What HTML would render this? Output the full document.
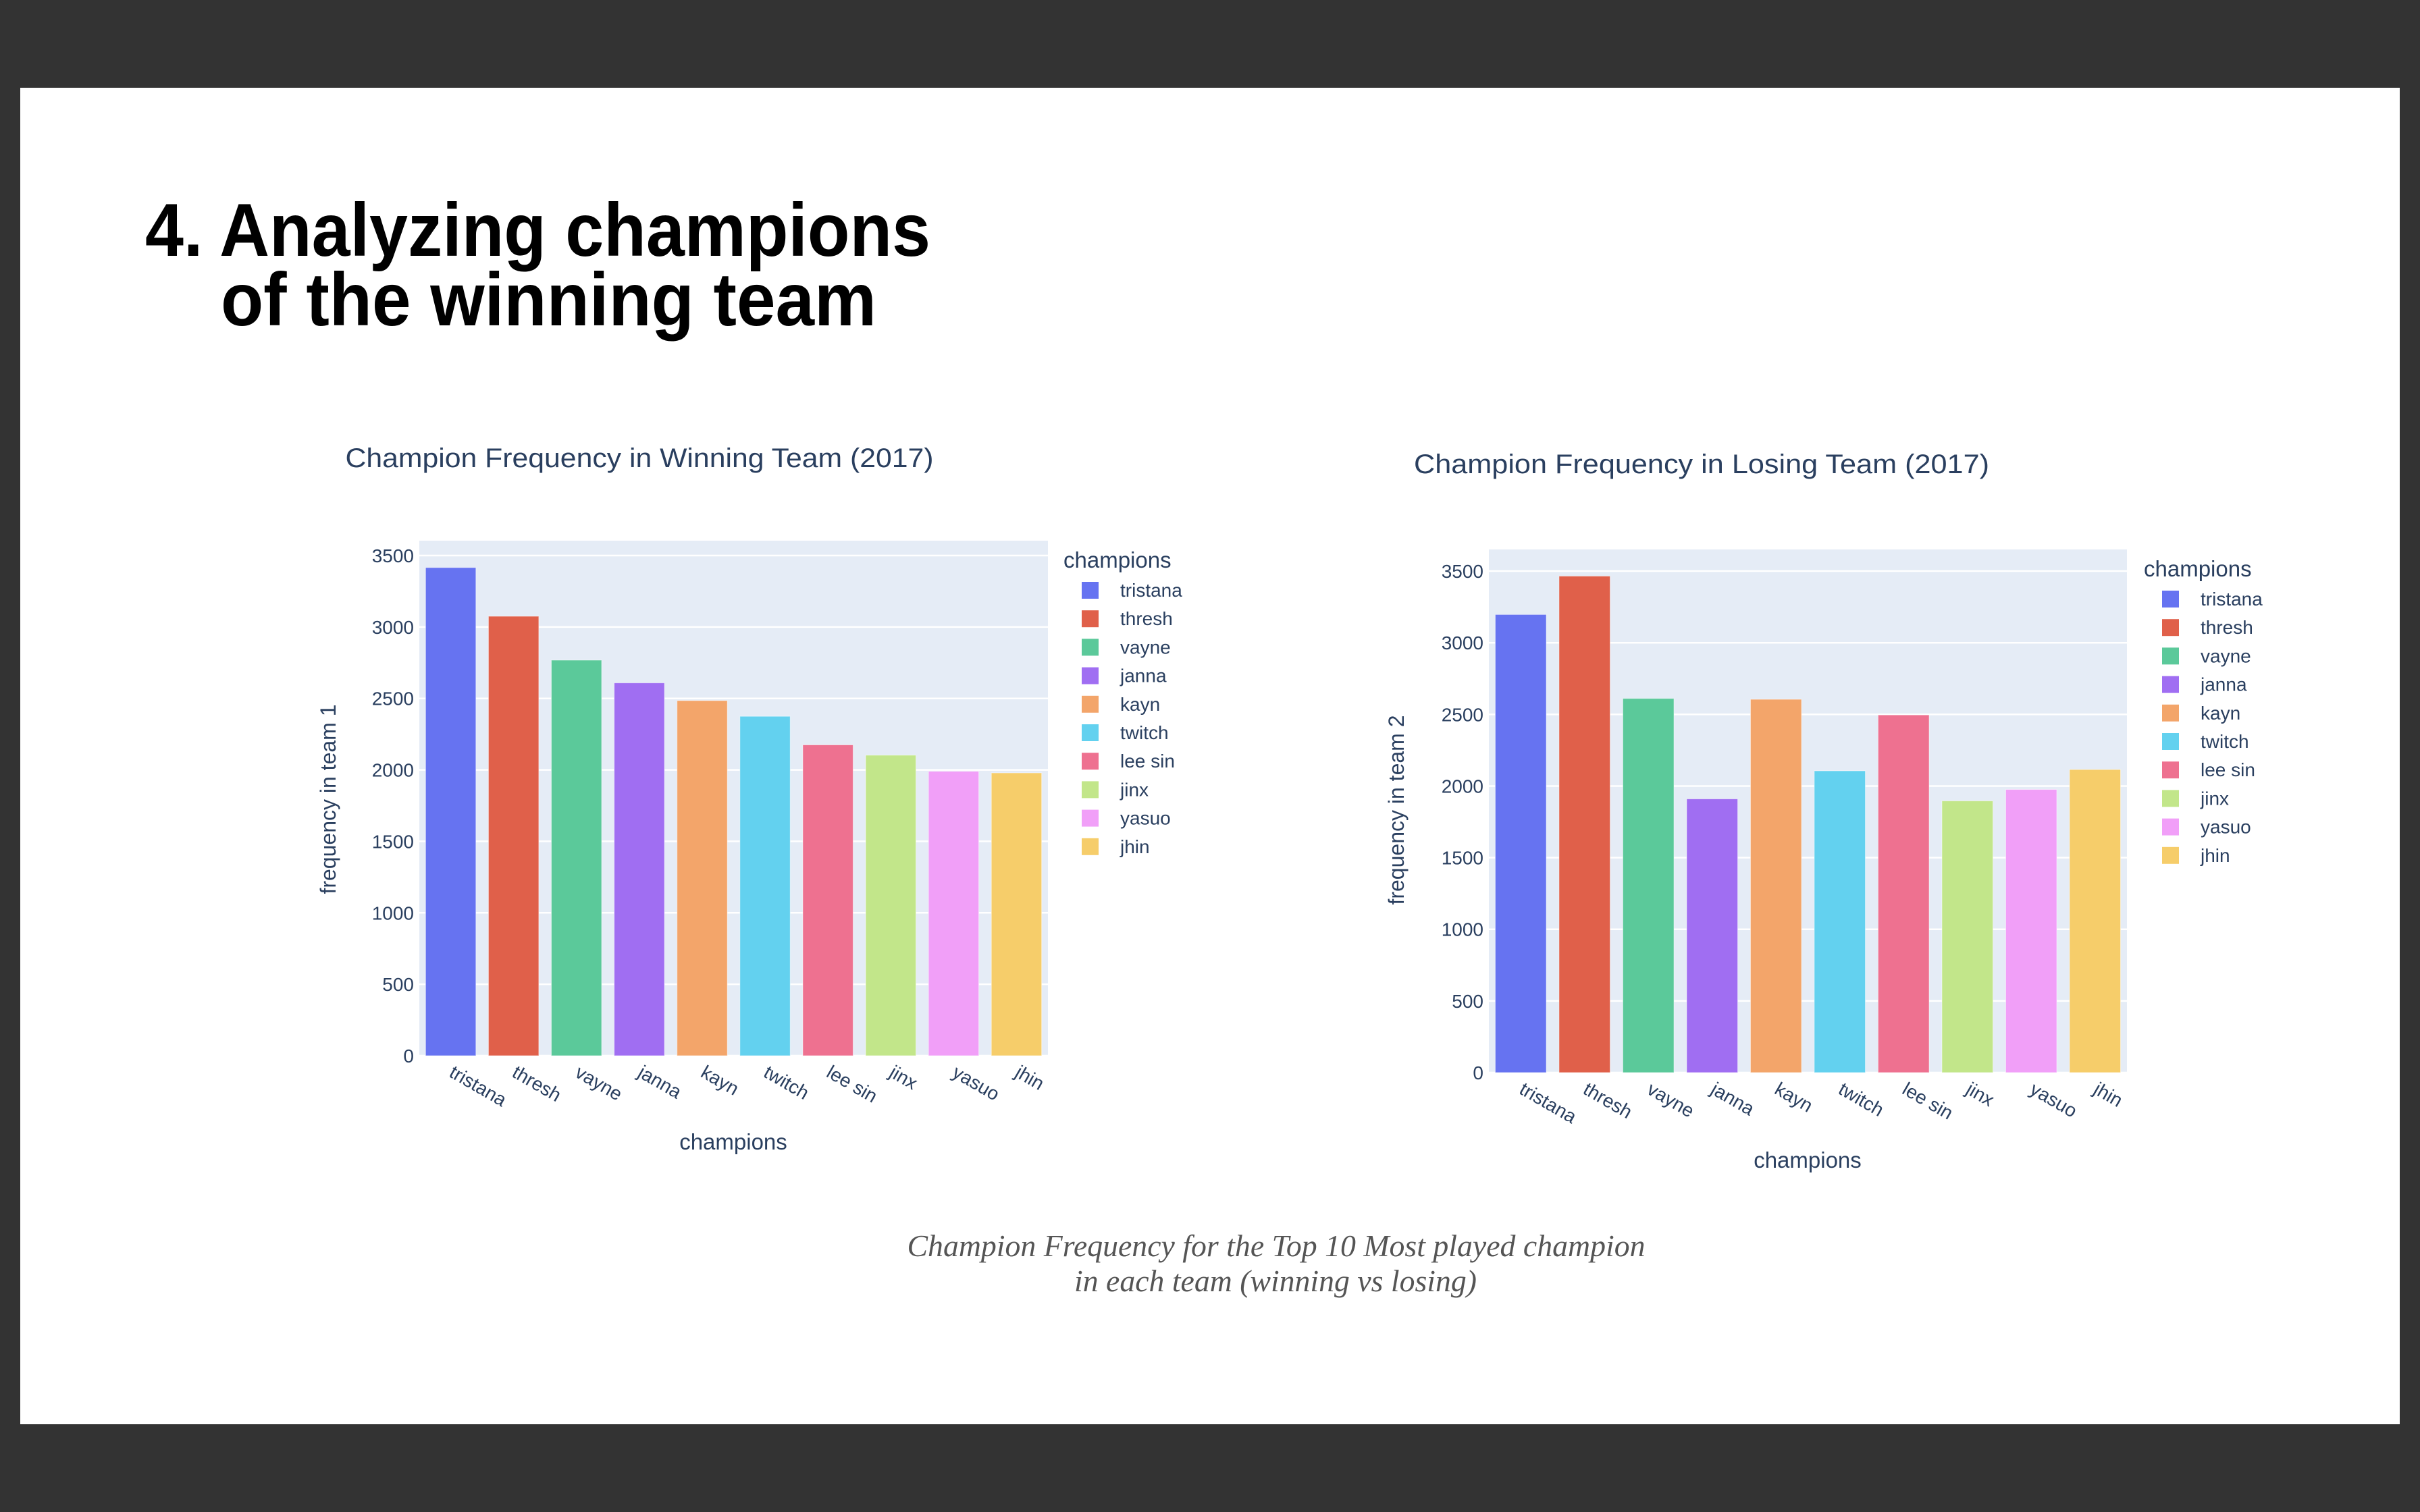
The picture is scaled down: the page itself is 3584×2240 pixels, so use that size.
<!DOCTYPE html>
<html><head><meta charset="utf-8"><style>
html,body{margin:0;padding:0;background:#333333;}
svg{display:block;}
text{font-family:"Liberation Sans",sans-serif;}
</style></head><body>
<svg id="root" width="3584" height="2240" viewBox="0 0 3584 2240">
<rect x="0" y="0" width="3584" height="2240" fill="#333333"/>
<rect x="30" y="130" width="3524" height="1980" fill="#ffffff"/>
<text x="215" y="379" font-size="111" font-weight="bold" fill="#000" textLength="1163" lengthAdjust="spacingAndGlyphs">4. Analyzing champions</text>
<text x="327" y="482" font-size="111" font-weight="bold" fill="#000" textLength="971" lengthAdjust="spacingAndGlyphs">of the winning team</text>
<text x="1890" y="1861" font-size="45" font-style="italic" fill="#555" text-anchor="middle" style="font-family:'Liberation Serif',serif" textLength="1093" lengthAdjust="spacingAndGlyphs">Champion Frequency for the Top 10 Most played champion</text>
<text x="1889" y="1913" font-size="45" font-style="italic" fill="#555" text-anchor="middle" style="font-family:'Liberation Serif',serif" textLength="596" lengthAdjust="spacingAndGlyphs">in each team (winning vs losing)</text>
<g id="chart1"></g>
<g id="chart2"></g>
</svg>
<script>
const categories = ["tristana","thresh","vayne","janna","kayn","twitch","lee sin","jinx","yasuo","jhin"];
const winValues = [3416,3075,2768,2609,2485,2375,2175,2103,1990,1979];
const loseValues = [3197,3465,2611,1910,2605,2106,2496,1896,1976,2115];
const yTicks = [0,500,1000,1500,2000,2500,3000,3500];
const colors = ["#6673F1","#E0604A","#5BC99A","#A06EF2","#F3A56A","#63D1EF","#EE7190","#C2E68A","#F19FF8","#F6CD6A"];
const NS = "http://www.w3.org/2000/svg";
const TC = "#2a3f5f";
function mk(parent, tag, attrs, txt){
  const e = document.createElementNS(NS, tag);
  for (const k in attrs) e.setAttribute(k, attrs[k]);
  if (txt !== undefined) e.textContent = txt;
  parent.appendChild(e);
  return e;
}
function drawChart(g, cfg, values){
  const x0 = cfg.x0, x1 = cfg.x1, yTop = cfg.yTop, yZero = cfg.yZero, yMax = cfg.yMax;
  const yScale = v => yZero - (v / yMax) * (yZero - yTop);
  const band = (x1 - x0) / categories.length;
  const xScale = i => x0 + band * (i + 0.5);
  const bg = mk(g, "rect", {x:x0, y:yTop, width:x1-x0, height:yZero-yTop, fill:"#E5ECF6"});
  
  
  yTicks.forEach(t => {
    const y = yScale(t);
    const gl = mk(g, "line", {x1:x0, x2:x1, y1:y, y2:y, stroke:"#fff", "stroke-width":2.5});
    
    
    const tl = mk(g, "text", {x:x0-8, y:y+10, "font-size":28, fill:TC, "text-anchor":"end"}, String(t));
    
    
  });
  values.forEach((v, i) => {
    const cx = xScale(i), w = band * 0.8;
    const b = mk(g, "rect", {x:cx-w/2, y:yScale(v), width:w, height:yZero-yScale(v), fill:colors[i], stroke:"rgba(255,255,255,0.5)", "stroke-width":1});
    
    
    const lx0 = cx - 4, ly0 = yZero + 30;
    const xl = mk(g, "text", {x:lx0, y:ly0, "font-size":28, fill:TC, transform:"rotate(30 " + lx0 + " " + ly0 + ")"}, categories[i]);
    
    
  });
  const t = mk(g, "text", {x:cfg.titleX, y:cfg.titleY, "font-size":40, fill:TC, "text-anchor":"middle", textLength:cfg.titleW, lengthAdjust:"spacingAndGlyphs"}, cfg.title);
  
  
  const yt = mk(g, "text", {x:cfg.yTitleX, y:cfg.yTitleY, "font-size":32, fill:TC, "text-anchor":"middle", transform:"rotate(-90 " + cfg.yTitleX + " " + cfg.yTitleY + ")"}, cfg.yTitle);
  
  
  const xt = mk(g, "text", {x:cfg.xTitleX, y:cfg.xTitleY, "font-size":33, fill:TC, "text-anchor":"middle"}, "champions");
  
  
  const lt = mk(g, "text", {x:cfg.legX, y:cfg.legY, "font-size":33, fill:TC}, "champions");
  
  
  categories.forEach((c, i) => {
    const yy = cfg.legY + 33 + i * 42.2;
    const sw = mk(g, "rect", {x:cfg.legX+27, y:yy-12, width:25, height:25, fill:colors[i]});
    
    
    const lx = mk(g, "text", {x:cfg.legX+84, y:yy+10, "font-size":28, fill:TC}, c);
    
    
  });
}
drawChart(document.getElementById("chart1"), {x0:621, x1:1552, yTop:801, yZero:1564, yMax:3604,
  title:"Champion Frequency in Winning Team (2017)", titleX:947, titleY:692, titleW:871,
  yTitle:"frequency in team 1", yTitleX:497, yTitleY:1184, xTitleX:1086, xTitleY:1703,
  legX:1575, legY:841}, winValues);
drawChart(document.getElementById("chart2"), {x0:2205, x1:3150, yTop:814, yZero:1589, yMax:3651,
  title:"Champion Frequency in Losing Team (2017)", titleX:2520, titleY:701, titleW:852,
  yTitle:"frequency in team 2", yTitleX:2079, yTitleY:1200, xTitleX:2677, xTitleY:1730,
  legX:3175, legY:854}, loseValues);
</script>
</body></html>
